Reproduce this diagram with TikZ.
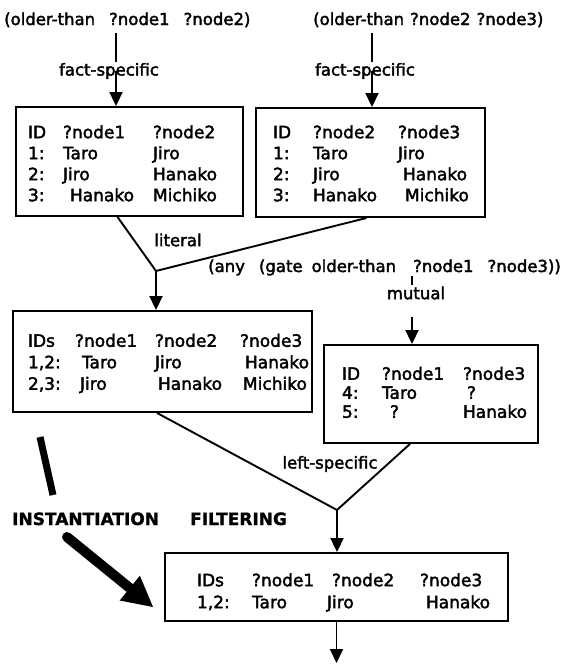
\documentclass[tikz,border=0pt]{standalone}
\usepackage{fontspec}
\setmainfont{DejaVu Sans}
\newfontfamily\inkfont{DejaVu Sans}[FakeBold=2.2]
\newfontfamily\heavyfont{DejaVu Sans Bold}[FakeBold=1.2]
\usetikzlibrary{arrows.meta}
\newcommand{\toprow}[1]{\rule{0pt}{#1}}
\begin{document}
\begin{tikzpicture}[x=1pt,y=-1pt,
  conn/.style={line width=1.9pt},
  arr/.style={line width=1.9pt,-{Triangle[length=14pt,width=13pt]}},
  tbox/.style={draw,line width=1.9pt,inner ysep=0pt,align=left,font=\inkfont\fontsize{17}{21}\selectfont},
  lbl/.style={inner sep=0pt,font=\inkfont\fontsize{16.5}{20}\selectfont},
  toplbl/.style={inner sep=0pt,font=\inkfont\fontsize{16.5}{20}\selectfont},
  bigword/.style={inner sep=0pt,font=\heavyfont\fontsize{17}{20}\selectfont}]
\useasboundingbox (0,0) rectangle (568,665);

% top labels
\node[toplbl,anchor=base west] (t1) at (4,25) {(older-than\hspace{14pt}?node1\hspace{14pt}?node2)};
\node[toplbl,anchor=base west] (t2) at (313,25) {(older-than\hspace{6pt}?node2\hspace{6pt}?node3)};
\node[lbl] (fs1) at (109,71) {fact-specific};
\node[lbl] (fs2) at (365,71) {fact-specific};
\coordinate (s1) at ([xshift=7pt]fs1.center);
\coordinate (s2) at ([xshift=7pt]fs2.center);

% first boxes
\node[tbox,minimum height=109pt,text width=203pt,inner xsep=12pt] (b1) at (129.5,161.5)
{\begin{tabular}{@{}p{35pt}@{}p{90pt}@{}l@{}}
\toprow{22.7pt}ID & ?node1 & ?node2\\
1: & Taro & Jiro\\
2: & Jiro & Hanako\\
3: & \hspace*{7pt}Hanako & Michiko
\end{tabular}};
\node[tbox,minimum height=109pt,text width=195pt,inner xsep=17pt] (b2) at (370.5,162.5)
{\begin{tabular}{@{}p{40pt}@{}p{85pt}@{}l@{}}
\toprow{20.7pt}ID & ?node2 & ?node3\\
1: & Taro & Jiro\\
2: & Jiro & \hspace*{5pt}Hanako\\
3: & Hanako & \hspace*{7pt}Michiko
\end{tabular}};

\draw[conn,shorten <=6pt,shorten >=1pt] (s1 |- t1.south) -- (s1 |- fs1.north);
\draw[arr] (s1) -- (s1 |- b1.north);
\draw[conn,shorten <=6pt,shorten >=1pt] (s2 |- t2.south) -- (s2 |- fs2.north);
\draw[arr] (s2) -- (s2 |- b2.north);

% literal join
\coordinate (j1) at (156,271);
\node[lbl] (lit) at (178,240) {literal};
\node[tbox,minimum height=101pt,text width=269pt,inner xsep=15pt,font=\inkfont\fontsize{17}{21.5}\selectfont] (b3) at (162.5,361.5)
{\begin{tabular}{@{}p{47pt}@{}p{80pt}@{}p{85pt}@{}l@{}}
\toprow{20pt}IDs & ?node1 & ?node2 & ?node3\\
1,2: & \hspace*{7pt}Taro & Jiro & \hspace*{5pt}Hanako\\
2,3: & \hspace*{5pt}Jiro & \hspace*{3pt}Hanako & \hspace*{3pt}Michiko
\end{tabular}};
\draw[conn] ([xshift=-12pt]b1.south) -- (j1) -- ([xshift=-4pt]b2.south);
\draw[arr] (j1) -- (j1 |- b3.north);

% mutual
\node[lbl,anchor=base west] (anyl) at (208,272) {(any\hspace{14pt}(gate\hspace{9pt}older-than\hspace{17pt}?node1\hspace{14pt}?node3))};
\node[lbl] (mut) at (416,293) {mutual};
\coordinate (s3) at (412,293);
\node[tbox,minimum height=98pt,text width=178pt,inner xsep=18pt,font=\inkfont\fontsize{17}{19}\selectfont] (b4) at (431,394)
{\begin{tabular}{@{}p{40pt}@{}p{81pt}@{}l@{}}
\toprow{15.3pt}ID & ?node1 & ?node3\\
4: & Taro & \hspace*{4pt}?\\
5: & \hspace*{8pt}? & Hanako
\end{tabular}};
\draw[conn,shorten >=1pt] (s3 |- anyl.south) -- (s3 |- mut.north);
\draw[arr,shorten <=17pt] (s3 |- mut.south) -- (s3 |- b4.north);

% left-specific join
\coordinate (j2) at (337,510);
\node[lbl] (ls) at (330,464) {left-specific};
\node[tbox,minimum height=68pt,text width=279pt,inner xsep=32pt,font=\inkfont\fontsize{17}{22}\selectfont] (b5) at (336.5,587)
{\begin{tabular}{@{}p{55pt}@{}p{80pt}@{}p{88pt}@{}l@{}}
\toprow{27pt}IDs & ?node1 & ?node2 & ?node3\\
1,2: & Taro & \hspace*{-5pt}Jiro & \hspace*{6pt}Hanako
\end{tabular}};
\draw[conn] ([xshift=-5.5pt]b3.south) -- (j2) -- ([xshift=-21pt]b4.south);
\draw[arr] (j2) -- (j2 |- b5.north);
\coordinate (out) at (336.5,663);
\draw[arr] (b5.south) -- (out);

% stage words and thick arrows
\node[bigword,anchor=base west] (inst) at (12,525) {INSTANTIATION};
\node[bigword,anchor=base west] (filt) at (190,525) {FILTERING};
\draw[line width=7pt] (40,437) -- (53,495);
\draw[line width=10pt,line cap=round] (67,537) -- (131,589);
\fill (139.9,575.7) -- (153,607) -- (119.7,600.5) -- cycle;
\end{tikzpicture}
\end{document}
